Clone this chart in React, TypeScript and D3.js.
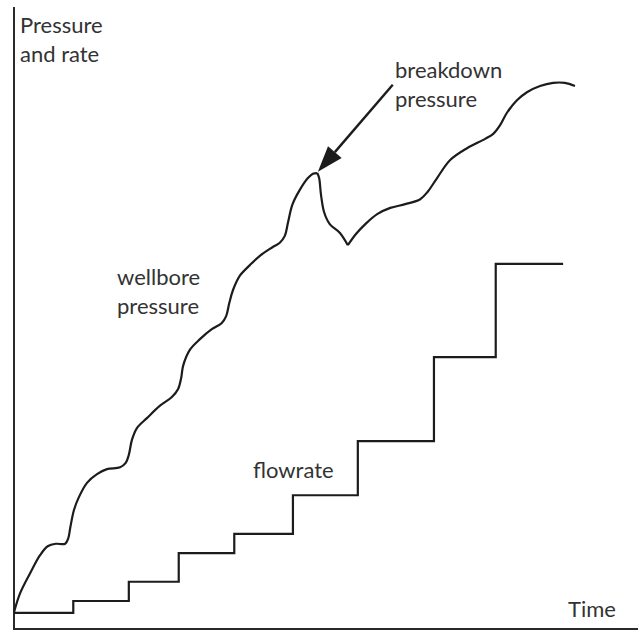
import { useEffect, useRef } from 'react'
import * as d3 from 'd3'

const WIDTH = 640
const HEIGHT = 630

// wellbore pressure, split at the breakdown peak and the trough after it
const pressureRise: [number, number][] = [
  [0, 2.7], [1.0, 5.8], [2.6, 9.0], [4.2, 11.9], [5.4, 13.3], [6.7, 13.7], [8.2, 13.7],
  [8.7, 14.6], [9.0, 16.2], [9.6, 19.1], [10.4, 21.2], [11.7, 23.5], [13.3, 24.9],
  [14.9, 25.7], [17.0, 26.0], [17.9, 26.7], [18.4, 28.0], [18.9, 30.4], [19.7, 32.3],
  [21.3, 33.9], [23.4, 35.9], [25.3, 37.3], [26.3, 38.6], [26.8, 40.4], [27.1, 42.3],
  [28.2, 44.9], [29.8, 46.6], [31.7, 48.2], [33.3, 49.2], [34.0, 50.3], [34.5, 52.4],
  [35.1, 54.5], [36.2, 56.8], [37.8, 58.5], [39.4, 60.0], [41.3, 61.3], [42.6, 62.1],
  [43.4, 63.2], [43.9, 65.3], [44.6, 68.2], [45.8, 70.6], [47.1, 72.5], [47.9, 73.2],
  [48.6, 73.3],
]
const pressureDrop: [number, number][] = [
  [48.6, 73.3], [48.9, 72.5], [49.2, 69.8], [49.7, 67.0], [50.6, 65.1], [52.2, 63.7],
  [53.5, 61.7],
]
const pressureRecover: [number, number][] = [
  [53.5, 61.7], [54.8, 63.5], [56.3, 65.1], [58.2, 66.7], [60.3, 67.7], [62.7, 68.3],
  [65.1, 69.1], [66.3, 70.3], [67.8, 72.5], [69.9, 75.4], [72.6, 77.3], [75.5, 78.8],
  [76.8, 79.6], [77.9, 81.0], [79.0, 83.0], [80.6, 85.0], [82.2, 86.3], [84.3, 87.3],
  [86.4, 87.8], [88.3, 87.8], [89.9, 87.3],
]

// injection rate steps
const stepTimes = [0, 9.5, 18.4, 26.4, 35.3, 44.7, 55.1, 67.3, 77.2, 88.0]
const stepRates = [2.6, 4.5, 7.6, 12.2, 15.3, 21.5, 30.2, 43.7, 58.7, 58.7]

// arrow pointing at the breakdown peak
const arrowFrom: [number, number] = [60.7, 87.5]
const arrowTo: [number, number] = [48.7, 73.5]

export default function App() {
  const svgRef = useRef<SVGSVGElement>(null)

  useEffect(() => {
    if (!svgRef.current) return
    const svg = d3.select(svgRef.current)
    svg.selectAll('*').remove()

    const x = d3.scaleLinear().domain([0, 100]).range([14, 638])
    const y = d3.scaleLinear().domain([0, 100]).range([629, 7])

    const ink = '#1c1c1c'
    const font = 'Lato, "Open Sans", sans-serif'

    // axes as plain lines, no ticks
    svg.append('path')
      .attr('d', `M${x(0)},${y(100)}V${y(0)}H${x(100)}`)
      .attr('fill', 'none')
      .attr('stroke', '#2a2a2a')
      .attr('stroke-width', 2)

    const smooth = d3.line<[number, number]>()
      .x((d) => x(d[0]))
      .y((d) => y(d[1]))
      .curve(d3.curveCatmullRom.alpha(0.5))

    ;[pressureRise, pressureDrop, pressureRecover].forEach((seg) => {
      svg.append('path')
        .attr('d', smooth(seg))
        .attr('fill', 'none')
        .attr('stroke', ink)
        .attr('stroke-width', 2.2)
        .attr('stroke-linejoin', 'miter')
    })

    const steps = d3.line<number>()
      .x((_, i) => x(stepTimes[i]))
      .y((d) => y(d))
      .curve(d3.curveStepAfter)

    svg.append('path')
      .attr('d', steps(stepRates))
      .attr('fill', 'none')
      .attr('stroke', ink)
      .attr('stroke-width', 2.2)

    // arrow
    const x1 = x(arrowFrom[0]), y1 = y(arrowFrom[1])
    const x2 = x(arrowTo[0]), y2 = y(arrowTo[1])
    const ang = Math.atan2(y2 - y1, x2 - x1)
    const headLen = 26, headW = 9
    const bx = x2 - headLen * Math.cos(ang), by = y2 - headLen * Math.sin(ang)
    svg.append('line')
      .attr('x1', x1).attr('y1', y1)
      .attr('x2', bx).attr('y2', by)
      .attr('stroke', ink)
      .attr('stroke-width', 2.4)
    svg.append('path')
      .attr('d', `M${x2},${y2}L${bx + headW * Math.sin(ang)},${by - headW * Math.cos(ang)}L${bx - headW * Math.sin(ang)},${by + headW * Math.cos(ang)}Z`)
      .attr('fill', ink)

    const labels = [
      { lines: ['Pressure', 'and rate'], x: 20, y: 33 },
      { lines: ['breakdown', 'pressure'], x: 395, y: 78 },
      { lines: ['wellbore', 'pressure'], x: 117, y: 285 },
      { lines: ['flowrate'], x: 253, y: 478 },
      { lines: ['Time'], x: 568, y: 617 },
    ]
    labels.forEach((l) => {
      const t = svg.append('text')
        .attr('x', l.x)
        .attr('y', l.y)
        .attr('font-family', font)
        .attr('font-size', 22)
        .attr('fill', '#333')
      l.lines.forEach((s, i) => {
        t.append('tspan').attr('x', l.x).attr('dy', i === 0 ? 0 : 29).text(s)
      })
    })
  }, [])

  return (
    <svg
      ref={svgRef}
      width={WIDTH}
      height={HEIGHT}
      style={{ position: 'absolute', left: 0, top: 0, background: '#fff' }}
    />
  )
}
